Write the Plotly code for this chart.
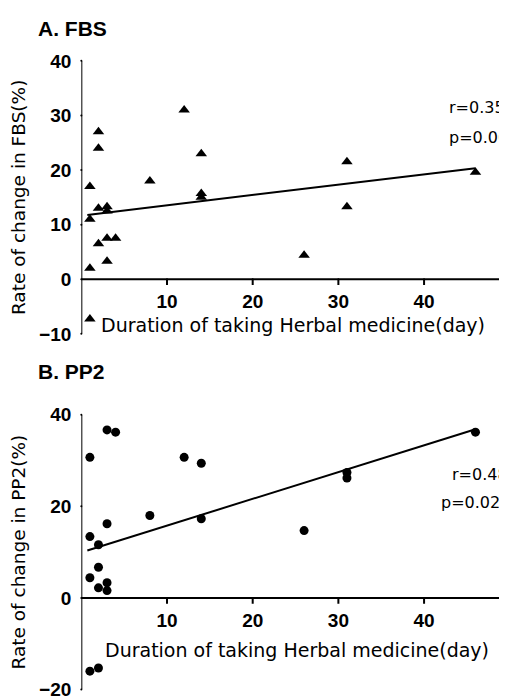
import numpy as np
import plotly.graph_objects as go

# Panel A: FBS
fbs_days = [1, 1, 1, 1, 2, 2, 2, 2, 3, 3, 3, 3, 4, 8, 12, 14, 14, 14, 26, 31, 31, 46]
fbs_change = [17, 11, 2, -7.3, 27, 24, 13, 6.5, 13.3, 12.5, 7.5, 3.3, 7.5, 18, 31, 23, 15.7, 15, 4.4, 21.5, 13.3, 19.6]
fbs_stats = ["r=0.35", "p=0.06"]

# Panel B: PP2
pp2_days = [1, 1, 1, 1, 2, 2, 2, 2, 3, 4, 3, 3, 3, 8, 12, 14, 14, 26, 31, 31, 46]
pp2_change = [30.7, 13.4, 4.4, -16, -15.3, 11.6, 6.7, 2.2, 36.7, 36.2, 16.2, 3.3, 1.6, 18, 30.7, 29.4, 17.3, 14.7, 27.4, 26.2, 36.2]
pp2_stats = ["r=0.48", "p=0.02", "**"]

x_ticks = [10, 20, 30, 40, 50]
fbs_yticks = [-10, 0, 10, 20, 30, 40]
pp2_yticks = [-20, 0, 20, 40]

x_title = "Duration of taking Herbal medicine(day)"
fbs_ytitle = "Rate of change in FBS(%)"
pp2_ytitle = "Rate of change in PP2(%)"

W, H = 507, 699
SCALE = 0.971
FONT = "Liberation Sans, Arial, sans-serif"
WIDE = "DejaVu Sans, sans-serif"


def py(p):
    return 1 - ((p - 17.8) / SCALE) / H


def px(p):
    return ((p - 7.8) / SCALE) / W


def fit_line(x, y):
    m, b = np.polyfit(x, y, 1)
    xs = np.array([min(x) - 0.3, max(x)])
    return xs, m * xs + b


xdom = [px(79), px(495)]
fbs_ydom = [py(334), py(60.7)]
pp2_ydom = [py(690), py(415)]
TICKLEN = 6

fig = go.Figure()

# axes drawn as traces through each panel's own scales
for xa, ya, yt, ydom in (("x", "y", fbs_yticks, fbs_ydom), ("x2", "y2", pp2_yticks, pp2_ydom)):
    ax_style = dict(color="black", width=2)
    fig.add_trace(go.Scatter(x=[0, 0], y=[min(yt), max(yt)], mode="lines", xaxis=xa, yaxis=ya,
                             line=ax_style, hoverinfo="skip", showlegend=False))
    fig.add_trace(go.Scatter(x=[0, max(x_ticks)], y=[0, 0], mode="lines", xaxis=xa, yaxis=ya,
                             line=ax_style, hoverinfo="skip", showlegend=False))
    ppu_x = (xdom[1] - xdom[0]) * W / (max(x_ticks) - 0)
    ppu_y = (ydom[1] - ydom[0]) * H / (max(yt) - min(yt))
    fig.add_trace(go.Scatter(x=[0] * len(yt), y=yt, mode="markers", xaxis=xa, yaxis=ya,
                             marker=dict(size=2, color="black"), cliponaxis=False,
                             error_x=dict(type="data", symmetric=False, array=[0] * len(yt),
                                          arrayminus=[TICKLEN / ppu_x] * len(yt),
                                          color="black", thickness=2, width=0),
                             hoverinfo="skip", showlegend=False))
    fig.add_trace(go.Scatter(x=x_ticks, y=[0] * len(x_ticks), mode="markers", xaxis=xa, yaxis=ya,
                             marker=dict(size=2, color="black"), cliponaxis=False,
                             error_y=dict(type="data", symmetric=False, array=[0] * len(x_ticks),
                                          arrayminus=[TICKLEN / ppu_y] * len(x_ticks),
                                          color="black", thickness=2, width=0),
                             hoverinfo="skip", showlegend=False))

fx, fy = fit_line(fbs_days, fbs_change)
fig.add_trace(go.Scatter(x=fbs_days, y=fbs_change, mode="markers", xaxis="x", yaxis="y",
                         marker=dict(symbol="triangle-up", size=10, color="black"), showlegend=False))
fig.add_trace(go.Scatter(x=fx, y=fy, mode="lines", xaxis="x", yaxis="y",
                         line=dict(color="black", width=2), showlegend=False))

gx, gy = fit_line(pp2_days, pp2_change)
fig.add_trace(go.Scatter(x=pp2_days, y=pp2_change, mode="markers", xaxis="x2", yaxis="y2",
                         marker=dict(symbol="circle", size=9, color="black"), showlegend=False))
fig.add_trace(go.Scatter(x=gx, y=gy, mode="lines", xaxis="x2", yaxis="y2",
                         line=dict(color="black", width=2), showlegend=False))

axis_common = dict(showline=False, ticks="", showgrid=False, zeroline=False, ticklabelstandoff=9,
                   tickfont=dict(family=FONT, size=19, color="black", weight="bold"))
ytitle_font = dict(family=WIDE, size=18.5, color="black")

fig.update_layout(
    width=W, height=H, margin=dict(l=0, r=0, t=0, b=0),
    plot_bgcolor="white", paper_bgcolor="white",
    xaxis=dict(domain=xdom, range=[0, 50], tickvals=x_ticks, anchor="free",
               position=py(279.3), **axis_common),
    yaxis=dict(domain=fbs_ydom, range=[-10, 40], tickvals=fbs_yticks, anchor="x",
               title=dict(text=fbs_ytitle, font=ytitle_font, standoff=8), **axis_common),
    xaxis2=dict(domain=xdom, range=[0, 50], tickvals=x_ticks, anchor="free",
                position=py(598.3), **axis_common),
    yaxis2=dict(domain=pp2_ydom, range=[-20, 40], tickvals=pp2_yticks, anchor="x2",
                title=dict(text=pp2_ytitle, font=ytitle_font, standoff=8), **axis_common),
)

ann = []
title_font = dict(family=FONT, size=21, color="black", weight="bold")
xt_font = dict(family=WIDE, size=19, color="black")
st_font = dict(family=WIDE, size=16, color="black")
ann.append(dict(text="A. FBS", x=px(35), y=py(28), xanchor="left", yanchor="middle", font=title_font))
ann.append(dict(text="B. PP2", x=px(35), y=py(372), xanchor="left", yanchor="middle", font=title_font))
ann.append(dict(text=x_title, x=px(285), y=py(325), xanchor="center", yanchor="middle", font=xt_font))
ann.append(dict(text=x_title, x=px(288), y=py(650), xanchor="center", yanchor="middle", font=xt_font))
ann.append(dict(text=fbs_stats[0], x=px(492), y=py(107), xanchor="right", yanchor="middle", font=st_font))
ann.append(dict(text=fbs_stats[1], x=px(495), y=py(137), xanchor="right", yanchor="middle", font=st_font))
ann.append(dict(text=pp2_stats[0], x=px(495), y=py(475), xanchor="right", yanchor="middle", font=st_font))
ann.append(dict(text=pp2_stats[1], x=px(487), y=py(503), xanchor="right", yanchor="middle", font=st_font))
ann.append(dict(text=pp2_stats[2], x=px(487), y=py(496), xanchor="left", yanchor="middle",
                font=dict(family=WIDE, size=10, color="black")))
for a in ann:
    a.update(xref="paper", yref="paper", showarrow=False)
fig.update_layout(annotations=ann)

fig.write_html("out.html")
